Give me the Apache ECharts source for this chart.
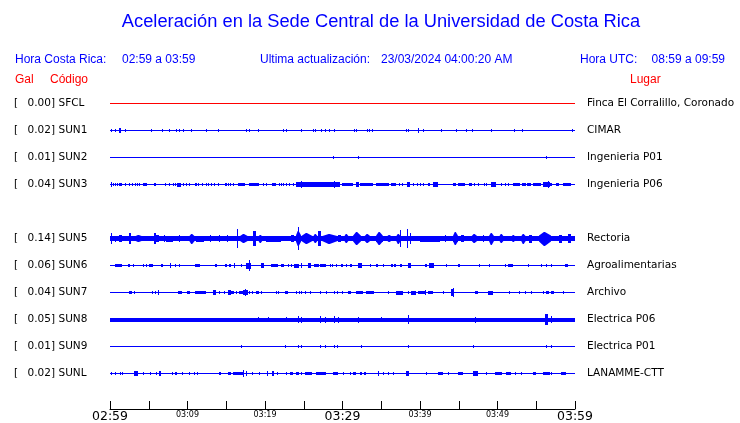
<!DOCTYPE html>
<html><head><meta charset="utf-8">
<script src="https://cdn.jsdelivr.net/npm/echarts/dist/echarts.min.js"></script>
<style>html,body{margin:0;padding:0;background:#fff}#c{width:740px;height:423px}</style>
</head><body><div id="c"></div>
<script>
// ---------- data ----------
const titleText = 'Aceleración en la Sede Central de la Universidad de Costa Rica';
const hdrLocalLabel = 'Hora Costa Rica:', hdrLocalRange = '02:59 a 03:59';
const hdrUpdLabel = 'Ultima actualización:', hdrUpdValue = '23/03/2024 04:00:20 AM';
const hdrUtcLabel = 'Hora UTC:', hdrUtcRange = '08:59 a 09:59';
const colGal = 'Gal', colCode = 'Código', colPlace = 'Lugar';

// one entry per trace slot (null = empty slot, SUN4 missing)
const codes  = ['SFCL','SUN1','SUN2','SUN3',null,'SUN5','SUN6','SUN7','SUN8','SUN9','SUNL'];
const galMax = ['0.00','0.02','0.01','0.04',null,'0.14','0.06','0.04','0.05','0.01','0.02'];
const places = ['Finca El Corralillo, Coronado','CIMAR','Ingenieria P01','Ingenieria P06',null,
                'Rectoria','Agroalimentarias','Archivo','Electrica P06','Electrica P01','LANAMME-CTT'];
// background (noise) half-amplitude of every trace, relative units
const baseAmp = [0,0,0,0,null,2,0,0,1.5,0,0];

const tickLabels = ['02:59','03:09','03:19','03:29','03:39','03:49','03:59'];

// envelope events: [start minute, end minute, half amplitude]
const evSFCL = [];
const evSUN1 = [[0.13,0.13,1],[0.65,0.65,1],[0.77,0.77,1],[1.25,1.5,2.3],[2.03,2.1,1.3],[5.38,5.45,1.3],[6.71,6.71,0.7],[7.74,7.74,1],[8.52,8.52,1],[9.03,9.03,0.8],[9.51,9.51,1.2],[10.58,10.58,1.3],[12.39,12.39,0.8],[13.94,13.94,1.2],[17.64,17.64,1],[18.06,18.06,1.2],[19.19,19.25,1.3],[22.45,22.45,1.2],[22.71,22.71,1.2],[24.77,24.77,1],[26.32,26.32,1],[26.58,26.58,0.8],[27.23,27.23,0.8],[27.83,27.83,0.8],[28.26,28.26,0.8],[29.03,29.03,1],[31.61,31.61,1],[31.87,31.87,1],[33.25,33.35,1.3],[33.42,33.42,1.2],[33.81,33.81,1],[38.32,38.32,1],[38.54,38.54,1],[39.83,39.9,1.7],[40.39,40.39,1],[42.71,42.71,1],[44.74,44.74,0.7],[46.06,46.1,1.2],[46.71,46.71,1],[49.29,49.29,1],[52.13,52.13,0.8],[53.25,53.25,1],[59.74,59.74,1]];
const evSUN2 = [[28.9,28.9,0.7],[32.0,32.0,0.7],[56.35,56.35,1]];
const evSUN3 = [[0.13,0.13,2.3],[0.43,0.43,1],[0.73,0.73,1],[0.95,0.95,1],[1.29,1.63,1.3],[2.03,2.03,1],[2.49,2.49,1],[2.84,2.84,1],[3.27,3.27,1],[3.57,3.57,1],[3.83,3.83,1],[4.34,4.86,1.3],[5.68,5.68,1],[5.89,5.89,1],[7.14,7.14,1],[7.66,7.66,1],[8.17,8.17,1],[8.43,8.43,1],[8.73,9.29,1.5],[9.51,9.51,1],[9.81,9.81,1],[10.24,10.24,1],[11.01,11.01,1],[11.18,11.18,1],[11.44,11.44,1],[11.91,11.91,1],[12.39,12.39,1],[12.65,12.65,1],[13.12,13.12,1],[13.46,13.46,1],[14.02,14.02,1],[14.84,14.84,1],[15.05,15.05,1],[15.35,15.35,1],[15.61,15.61,1],[15.96,15.96,1],[16.6,17.5,1.2],[17.98,19.26,1.3],[19.78,19.78,1],[20.22,20.22,1],[21.03,21.51,1.2],[21.81,21.81,1],[22.15,22.15,1],[22.41,22.41,1],[22.71,22.71,1],[23.14,23.14,1],[23.66,23.66,1],[24.0,24.52,2.3],[24.69,24.69,3],[24.52,28.82,1.7],[27.14,27.14,2.3],[28.99,28.99,3.3],[29.33,29.33,2.3],[28.39,29.68,2],[29.97,31.39,1.3],[31.83,32.26,2.3],[32.34,33.97,1.3],[34.41,36.04,1.3],[36.34,36.99,0.8],[37.33,37.33,1],[37.68,37.68,1],[38.37,38.71,2.3],[39.14,39.14,1],[39.66,39.66,1],[40,40,1],[40.43,40.43,1],[41.08,41.08,1],[41.29,41.29,1],[41.72,42.37,1.7],[44.3,44.73,1.2],[44.94,45.81,1.2],[46.45,46.8,1.2],[46.97,46.97,1],[47.53,47.53,1],[48.26,48.26,1],[48.6,48.6,1],[49.25,49.9,1.7],[50.54,50.54,1],[50.97,50.97,1],[51.4,51.4,1],[52.04,52.9,1.3],[53.25,53.76,1.2],[53.85,54.41,1.2],[54.62,55.7,1.2],[55.91,56.77,2.3],[56.56,56.56,3],[56.9,57.2,1.2],[57.63,58.06,1.2],[58.49,59.57,1.2]];
const evSUN5 = [[0.13,0.13,4.7],[0.65,0.65,2.5],[1.29,1.72,3],[2.49,2.8,5.3],[3.01,4.52,3],[5.68,5.94,5],[6.02,6.45,3],[6.97,6.97,3.3],[7.31,8.17,2.5],[8.94,8.94,3],[10.24,10.97,4.5],[11.18,12.26,2.5],[13.03,13.03,3],[14.19,14.19,3],[15.18,15.18,3],[16.43,16.5,9],[16.77,18.06,4],[18.49,18.92,7],[19.14,19.78,3.5],[20.22,22.15,2.5],[23.44,23.87,3],[24.09,24.73,7],[24.3,24.4,11],[24.73,26.24,5],[26.24,26.88,4],[26.88,27.31,7],[27.31,29.68,4.5],[29.46,29.9,3],[30.32,30.97,4],[31.39,32.47,6],[32.9,33.76,4],[34.41,35.27,6],[35.7,36.55,3],[36.99,37.63,4.5],[37.5,37.5,8],[38.37,38.4,9],[38.71,38.71,5],[40,42.58,2.5],[43.23,43.23,3],[44.3,44.94,6],[45.38,45.81,3],[46.67,47.53,4],[48.17,48.17,3],[49.03,49.68,5.5],[50.32,50.97,4],[51.83,52.47,3],[53.12,53.76,4.5],[54.19,54.62,3.5],[55.48,56.99,6.5],[58.06,58.49,3.5],[59.14,59.57,4]];
const evSUN6 = [[0.65,1.5,1.3],[2.37,2.58,1],[3.01,3.14,1],[4.3,4.3,1],[4.65,4.65,1],[5.07,5.59,1.3],[6.67,6.97,1.3],[7.83,7.83,2.3],[8.47,8.47,1],[9.03,9.03,1],[10.97,11.61,1.3],[13.55,13.76,1],[14.84,15.05,1],[15.4,15.7,1.2],[16.0,16.0,2],[16.99,16.99,1],[17.63,18.28,2.5],[18.06,18.06,5],[19.57,20,1.8],[20.86,21.72,1.2],[22.15,22.58,1.2],[23.0,23.0,1],[23.44,23.44,1],[23.87,24.52,1.5],[24.65,24.65,2],[25.59,26.02,2],[26.45,27.1,1.2],[27.18,27.96,1.2],[28.39,28.39,1],[28.73,28.73,1],[29.25,29.33,1],[29.9,30.1,1],[30.54,30.54,1],[31.05,31.31,1],[32.04,32.6,1.8],[33.55,33.55,1],[34.41,34.62,1],[35.27,35.27,1],[36.26,36.55,1.2],[36.77,36.99,1],[37.42,37.63,1.2],[38.49,38.84,1.8],[40.65,40.86,1.2],[41.29,41.94,1.8],[43.44,43.44,1],[44.94,45.16,1.2],[47.74,47.74,1],[49.03,49.03,1],[51.05,51.05,1],[51.4,52.04,1.2],[53.96,53.96,1],[55.7,55.7,1],[56.34,56.34,1],[56.99,56.99,1],[58.71,59.14,1.2]];
const evSUN7 = [[2.58,3.01,1],[3.18,3.18,1],[5.46,5.46,0.8],[5.81,5.81,0.8],[6.24,6.24,2.3],[8.9,9.38,1.3],[9.98,10.32,1.3],[10.97,12.39,1.3],[13.33,13.76,2.3],[14.11,14.11,1],[14.71,14.71,1],[15.27,15.7,2],[15.7,16.13,1.3],[16.34,16.34,1],[16.69,17.2,1.3],[17.2,17.85,2],[17.51,17.51,2.7],[17.98,17.98,1],[18.41,18.41,1],[18.84,19.26,1.3],[19.53,19.53,1],[21.42,21.42,0.8],[21.72,21.72,0.8],[22.67,23.1,1.3],[24.09,24.09,1],[24.39,24.39,1],[24.73,24.73,1.3],[25.29,25.29,1],[25.81,25.81,1],[27.1,27.1,1],[27.96,27.96,1],[29.03,29.03,1],[29.37,29.46,1],[29.97,29.97,1],[30.75,31.18,1],[31.83,32.69,1.2],[33.12,34.19,1.3],[35.91,35.91,1],[36.99,37.85,1.5],[38.58,38.58,1],[38.93,39.57,1.5],[39.78,40.86,1.3],[40.77,40.77,2.3],[41.08,41.72,1.3],[43.0,43.0,1],[44.09,44.52,3],[44.3,44.3,4],[47.1,47.53,1.2],[48.82,49.46,1.5],[51.61,51.61,1.3],[52.9,52.9,1],[53.55,53.55,1],[54.41,54.41,1],[55.91,55.91,1],[56.34,56.77,1],[56.99,57.42,1],[58.49,58.49,1]];
const evSUN8 = [[19.14,19.14,2.3],[20.43,20.43,2.3],[22.79,22.79,2.3],[24.3,24.3,3],[24.73,24.73,2.5],[27.1,27.1,3],[27.87,27.87,2.5],[29.03,29.03,3],[29.46,29.46,2.5],[32.04,32.04,2.5],[35.05,35.05,2.3],[38.58,38.65,4],[47.1,47.1,2.5],[56.13,56.56,5],[56.99,56.99,3]];
const evSUN9 = [[16.99,16.99,1],[22.67,22.67,1.3],[24.3,24.3,1],[24.73,24.73,1.3],[27.1,27.1,1.3],[27.87,27.87,1],[28.95,28.95,1],[29.03,29.03,1],[29.33,29.46,1],[32.47,32.47,1],[38.58,38.58,1],[46.88,47.0,1.3],[56.34,56.34,1],[56.99,56.99,1]];
const evSUNL = [[0.22,0.22,1.3],[0.65,0.65,1],[1.38,1.38,1],[1.63,1.63,1],[3.14,3.66,1.7],[4.3,4.3,1],[5.25,5.25,1],[6.02,6.02,1],[6.37,6.67,1.7],[8.08,8.08,1],[8.39,8.69,1.3],[9.33,9.33,1],[10.24,10.24,1],[10.88,10.88,1],[11.27,11.27,1],[14.11,14.41,1.3],[15.27,15.61,1.3],[15.91,17.2,1.3],[17.29,17.29,2.7],[17.63,17.63,1.7],[18.41,18.41,1],[19.27,19.27,1],[20.34,20.34,2.3],[20.99,21.2,1.7],[21.63,21.63,1],[22.71,22.71,1],[23.23,23.66,1.3],[24.09,24.43,1.3],[24.73,24.73,1],[25.29,26.24,1.3],[26.67,27.96,1.3],[28.82,29.46,1.3],[30.1,30.1,1],[30.97,30.97,1],[31.48,31.83,1.2],[32.26,32.47,1],[32.9,33.12,1],[34.62,34.62,2.3],[35.27,35.27,1],[35.91,35.91,1],[36.55,36.55,1],[38.28,38.71,1.7],[40.86,40.86,1],[42.37,43.0,1.3],[43.65,43.65,1],[44.94,45.59,1.3],[46.88,47.53,1.7],[48.6,48.6,1],[49.68,50.54,1.3],[51.18,51.83,1.2],[52.26,52.26,1],[53.12,53.12,1],[54.62,55.05,1.2],[55.91,56.77,1.2],[56.99,56.99,1],[58.28,58.93,1.3]];
const events = [evSFCL,evSUN1,evSUN2,evSUN3,null,evSUN5,evSUN6,evSUN7,evSUN8,evSUN9,evSUNL];

// ---------- chart ----------
const ROW = 27;           // row spacing in amplitude units
const T0 = 0, T1 = 60;    // minutes shown
const BLUE = '#0000ff', RED = '#ff0000';
const traceColor = i => (codes[i] === 'SFCL' ? RED : BLUE);

const chart = echarts.init(document.getElementById('c'), null, {renderer: 'canvas'});

const series = [];
codes.forEach((c, i) => {
  if (!c) return;
  const data = [[T0, T1, baseAmp[i], i]].concat(events[i].map(e => [e[0], e[1], e[2], i]));
  series.push({
    type: 'custom', name: c, silent: true, animation: false, clip: false,
    encode: {x: [0, 1], y: 2},
    data: data,
    renderItem: (params, api) => {
      const s = api.value(0), e = api.value(1), a = api.value(2), slot = api.value(3);
      const yc = slot * ROW;
      const pc = api.coord([s, yc]);
      const pe = api.coord([e, yc]);
      const pa = api.coord([s, yc - a]);
      const ampPx = Math.abs(pc[1] - pa[1]);
      const lineTop = Math.floor(pc[1]);          // 1-px trace line row
      const x0 = Math.floor(pc[0]);
      const w = Math.max(1, Math.round(pe[0] - pc[0]));
      const ya = Math.round(lineTop - ampPx);
      const yb = Math.round(lineTop + 1 + ampPx);
      const fill = traceColor(slot);
      if (params.dataIndex > 0 && w > 3 && ampPx > 2.5) {
        // burst: diamond-shaped envelope
        const half = ampPx * 0.45, mid = lineTop + 0.5;
        const xa = x0, xb = x0 + w, xc = x0 + w * 0.45;
        return {type: 'polygon', shape: {points: [
          [xa, mid - half], [xc - 0.5, ya], [xc + 0.5, ya], [xb, mid - half],
          [xb, mid + half], [xc + 0.5, yb], [xc - 0.5, yb], [xa, mid + half]]},
          style: {fill: fill}};
      }
      return {type: 'rect', shape: {x: x0, y: ya, width: w, height: Math.max(1, yb - ya)},
              style: {fill: fill}};
    }
  });
});

const FONT_H = 'Liberation Sans';
const FONT_D = 'DejaVu Sans';

chart.setOption({
  animation: false,
  backgroundColor: '#fff',
  grid: {left: 110, right: 165, top: 89.5, bottom: 14, containLabel: false, outerBoundsMode: 'none'},
  xAxis: {
    type: 'value', min: T0, max: T1, interval: 5,
    splitLine: {show: false},
    axisLine: {show: true, onZero: false, lineStyle: {color: '#000', width: 1}},
    axisTick: {show: true, inside: true, length: 8, lineStyle: {color: '#000', width: 1}},
    axisLabel: {
      show: true, margin: 1, showMinLabel: true, showMaxLabel: true, hideOverlap: false,
      formatter: v => {
        if (v % 10 !== 0) return '';
        const l = tickLabels[v / 10];
        return v % 30 === 0 ? '{big|' + l + '}' : '{small|' + l + '}';
      },
      rich: {
        big: {fontSize: 12.5, fontFamily: FONT_D, color: '#000'},
        small: {fontSize: 8, fontFamily: FONT_D, color: '#000', padding: [1, 0, 0, 0]}
      }
    }
  },
  yAxis: {type: 'value', show: false, inverse: true, min: -ROW / 2, max: 306,
          splitLine: {show: false}},
  series: series
});

// text decorations, rows placed through the chart's own coordinate conversion
const g = [];
const txt = (x, y, s, opt) => g.push({type: 'text', x: x, y: y, silent: true,
  style: Object.assign({text: s, textVerticalAlign: 'middle', fontFamily: FONT_H, fontSize: 12, fill: BLUE}, opt || {})});

txt(381, 22, titleText, {fontSize: 18.3, textAlign: 'center'});
txt(15, 60, hdrLocalLabel);
txt(122, 60, hdrLocalRange);
txt(260, 60, hdrUpdLabel);
txt(381, 60, hdrUpdValue);
txt(580, 60, hdrUtcLabel);
txt(725, 60, hdrUtcRange, {textAlign: 'right'});
txt(15, 80, colGal, {fill: RED});
txt(50, 80, colCode, {fill: RED});
txt(630, 80, colPlace, {fill: RED});

codes.forEach((c, i) => {
  if (!c) return;
  const y = chart.convertToPixel({gridIndex: 0}, [0, i * ROW])[1] + 0.5;
  const o = {fontFamily: FONT_D, fontSize: 10.5, fill: '#000'};
  txt(14, y, '[', o);
  txt(55, y, galMax[i] + ']', Object.assign({textAlign: 'right'}, o));
  txt(58.5, y, c, o);
  txt(587, y, places[i], o);
});
chart.setOption({graphic: {elements: g}});
</script></body></html>
